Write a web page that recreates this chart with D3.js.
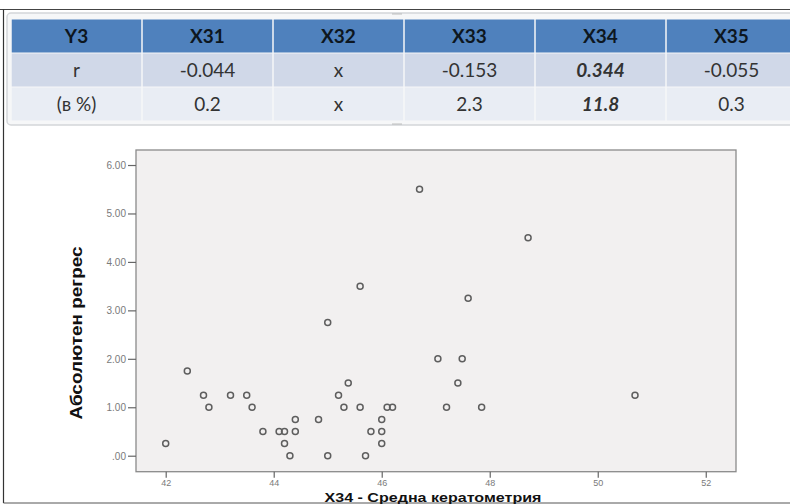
<!DOCTYPE html>
<html><head><meta charset="utf-8">
<script src="https://cdn.jsdelivr.net/npm/d3@7"></script>
<style>html,body{margin:0;padding:0;background:#fff;}svg{display:block;}</style>
</head><body>
<svg id="c" width="790" height="504"></svg>
<script>
// ---- table data ----
const headers = ["Y3", "X31", "X32", "X33", "X34", "X35"];
const rRow = ["r", "-0.044", "x", "-0.153", "0.344", "-0.055"];
const pctRow = ["(в %)", "0.2", "x", "2.3", "11.8", "0.3"];
const highlightCol = "X34";

// ---- scatter data (X34 - Средна кератометрия vs Абсолютен регрес) ----
const xVals = [42.0, 42.4, 42.7, 42.8, 43.2, 43.5, 43.6, 43.8, 44.1, 44.2, 44.2, 44.3, 44.4, 44.4,
  44.83, 45.0, 45.0, 45.2, 45.3, 45.38, 45.6, 45.6, 45.7, 45.8, 46.0, 46.0, 46.0, 46.1, 46.2,
  46.7, 47.04, 47.2, 47.41, 47.49, 47.6, 47.85, 48.71, 50.69];
const yVals = [0.25, 1.75, 1.25, 1.0, 1.25, 1.25, 1.0, 0.5, 0.5, 0.5, 0.25, 0.0, 0.75, 0.5,
  0.75, 0.0, 2.75, 1.25, 1.0, 1.5, 1.0, 3.5, 0.0, 0.5, 0.75, 0.5, 0.25, 1.0, 1.0,
  5.5, 2.0, 1.0, 1.5, 2.0, 3.25, 1.0, 4.5, 1.25];
const xTicks = [42, 44, 46, 48, 50, 52];
const yTicks = [0, 1, 2, 3, 4, 5, 6];
const xTitle = "X34 - Средна кератометрия";
const yTitle = "Абсолютен регрес";

const svg = d3.select("#c");

// outer frame lines
svg.append("line").attr("x1", 0).attr("x2", 790).attr("y1", 9.5).attr("y2", 9.5).attr("stroke", "#444").attr("stroke-width", 1);
svg.append("line").attr("x1", 3.5).attr("x2", 3.5).attr("y1", 9.5).attr("y2", 503).attr("stroke", "#333").attr("stroke-width", 1.2);
svg.append("line").attr("x1", 3.5).attr("x2", 790).attr("y1", 503).attr("y2", 503).attr("stroke", "#555").attr("stroke-width", 1);

// table container
svg.append("rect").attr("x", 7).attr("y", 13).attr("width", 800).attr("height", 112).attr("rx", 4)
  .attr("fill", "#f6f7f8").attr("stroke", "#d4d6d9").attr("stroke-width", 1.5);
// handles
svg.append("g").selectAll("circle").data([-4,-2,0,2,4]).join("circle")
  .attr("cx", d => 397 + d).attr("cy", 14).attr("r", 0.7).attr("fill", "#aaa");
svg.append("g").selectAll("circle").data([-4,-2,0,2,4]).join("circle")
  .attr("cx", d => 397 + d).attr("cy", 124).attr("r", 0.7).attr("fill", "#aaa");

const colX = d3.scaleBand().domain(headers).range([11, 797]);
const rows = [
  {cells: headers, fill: "#4f81bd", y: 19.5, h: 33, color: "#0d1620", weight: 700},
  {cells: rRow, fill: "#d0d8e8", y: 53.5, h: 33, color: "#333", weight: 400},
  {cells: pctRow, fill: "#e9edf4", y: 87.5, h: 33, color: "#333", weight: 400}
];
const tg = svg.append("g");
rows.forEach(row => {
  const g = tg.append("g");
  g.selectAll("rect").data(headers).join("rect")
    .attr("x", d => colX(d) + 0.75).attr("y", row.y)
    .attr("width", colX.bandwidth() - 1.5).attr("height", row.h)
    .attr("fill", row.fill);
  g.selectAll("text").data(row.cells).join("text")
    .attr("x", (d, i) => colX(headers[i]) + colX.bandwidth() / 2)
    .attr("y", row.y + row.h / 2 + 6.5)
    .attr("text-anchor", "middle")
    .attr("font-family", "Lato, 'Open Sans', sans-serif")
    .attr("font-size", 19)
    .attr("fill", row.color)
    .attr("font-weight", (d, i) => (row.weight === 700 || (headers[i] === highlightCol && i > 0 && row !== rows[0])) ? 700 : 400)
    .attr("font-style", (d, i) => (headers[i] === highlightCol && row !== rows[0]) ? "italic" : "normal")
    .text(d => d);
});

// ---- scatter ----
const L = 136, R = 736, T = 150, B = 471.7;
const x = d3.scaleLinear().domain([41.45, 52.56]).range([L, R]);
const y = d3.scaleLinear().domain([-0.33, 6.31]).range([B, T]);

svg.append("rect").attr("x", L).attr("y", T).attr("width", R - L).attr("height", B - T)
  .attr("fill", "#f2f0f0").attr("stroke", "#8a8a8a").attr("stroke-width", 1.3);

const fmt = v => v === 0 ? ".00" : d3.format(".2f")(v);
const ya = svg.append("g").attr("transform", `translate(${L},0)`)
  .call(d3.axisLeft(y).tickValues(yTicks).tickFormat(fmt).tickSize(8).tickSizeOuter(0));
ya.select(".domain").remove();
ya.selectAll("line").attr("stroke", "#666").attr("stroke-width", 1.2);
ya.selectAll("text").attr("font-family", "'Liberation Sans', Arial, sans-serif").attr("font-size", 10)
  .attr("fill", "#7a7a7a").attr("x", -10).attr("dy", "0.35em");

const xa = svg.append("g").attr("transform", `translate(0,${B})`)
  .call(d3.axisBottom(x).tickValues(xTicks).tickFormat(d3.format("d")).tickSize(6).tickSizeOuter(0));
xa.select(".domain").remove();
xa.selectAll("line").attr("stroke", "#666").attr("stroke-width", 1.2);
xa.selectAll("text").attr("font-family", "'Liberation Sans', Arial, sans-serif").attr("font-size", 9)
  .attr("fill", "#7a7a7a").attr("y", 8).attr("dy", "0.71em");

const pts = xVals.map((v, i) => ({x: v, y: yVals[i]}));
svg.append("g").selectAll("circle").data(pts).join("circle")
  .attr("cx", d => x(d.x)).attr("cy", d => y(d.y)).attr("r", 3)
  .attr("fill", "none").attr("stroke", "#5e5e5e").attr("stroke-width", 1.5);

svg.append("text").attr("transform", "translate(82,333) rotate(-90)")
  .attr("text-anchor", "middle").attr("font-family", "'Liberation Sans', Arial, sans-serif")
  .attr("font-size", 16).attr("font-weight", 700).attr("fill", "#111")
  .attr("textLength", 173).attr("lengthAdjust", "spacingAndGlyphs").text(yTitle);

svg.append("text").attr("x", 433).attr("y", 501.5)
  .attr("text-anchor", "middle").attr("font-family", "'Liberation Sans', Arial, sans-serif")
  .attr("font-size", 12.5).attr("font-weight", 700).attr("fill", "#111")
  .attr("textLength", 217).attr("lengthAdjust", "spacingAndGlyphs").text(xTitle);
</script>
</body></html>
